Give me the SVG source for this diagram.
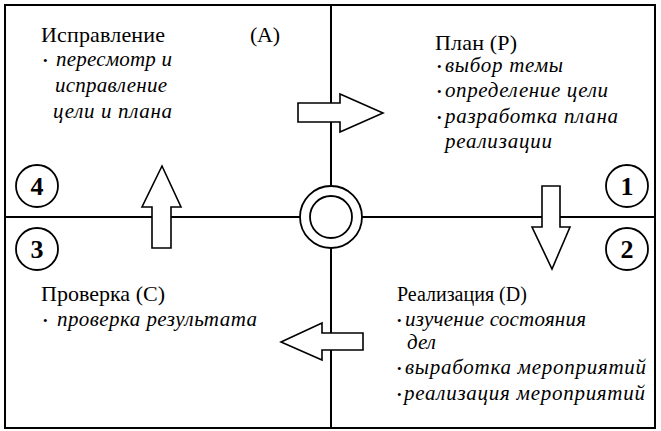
<svg xmlns="http://www.w3.org/2000/svg" width="661" height="431" viewBox="0 0 661 431">
<style>
.frame{fill:none;stroke:#000;stroke-width:2}
.line{stroke:#000;stroke-width:2;fill:none}
.arrow{fill:#fff;stroke:#000;stroke-width:1.6;stroke-linejoin:miter}
.ring{fill:#fff;stroke:#000;stroke-width:1.8}
.h{font-family:"Liberation Serif","Times New Roman",serif;font-size:22px;fill:#000}
.i{font-family:"Liberation Serif","Times New Roman",serif;font-size:21px;font-style:italic;fill:#000}
.b{font-family:"Liberation Serif","Times New Roman",serif;font-size:13px;fill:#000}
.num{font-family:"Liberation Serif","Times New Roman",serif;font-size:26px;font-weight:bold;fill:#000;text-anchor:middle}
</style>
<rect width="661" height="431" fill="#fff"/>
<rect class="frame" x="5" y="5" width="650" height="423"/>
<g id="connectors">
<line class="line" x1="331" y1="5" x2="331" y2="428"/>
<line class="line" x1="5" y1="217" x2="655" y2="217"/>
<polygon class="arrow" points="298,103 340,103 340,94 383,113 340,132 340,122 298,122"/>
<polygon class="arrow" points="542,186 560,186 560,227 570,227 552,269 532,227 542,227"/>
<polygon class="arrow" points="363,333 322,333 322,323 281,342 322,360 322,350 363,350"/>
<polygon class="arrow" points="152,248 152,207 142,207 162,166 181,207 171,207 171,248"/>
</g>
<g id="center">
<circle class="ring" cx="331" cy="217" r="31"/>
<circle class="ring" cx="331" cy="217" r="21"/>
</g>
<g id="num1"><circle class="ring" cx="627" cy="186" r="21"/><text class="num" x="627" y="195">1</text></g>
<g id="num2"><circle class="ring" cx="627" cy="249" r="21"/><text class="num" x="627" y="258">2</text></g>
<g id="num3"><circle class="ring" cx="37" cy="249" r="21"/><text class="num" x="37" y="258">3</text></g>
<g id="num4"><circle class="ring" cx="37" cy="186" r="21"/><text class="num" x="37" y="195">4</text></g>
<g id="act">
<text class="h" x="41" y="42" textLength="124" lengthAdjust="spacing">Исправление</text>
<text class="h" x="250" y="42" textLength="30" lengthAdjust="spacing">(A)</text>
<text class="b" x="43" y="65">•</text>
<text class="i" x="56" y="66" textLength="116" lengthAdjust="spacing">пересмотр и</text>
<text class="i" x="55" y="92" textLength="112" lengthAdjust="spacing">исправление</text>
<text class="i" x="53" y="118" textLength="119" lengthAdjust="spacing">цели и плана</text>
</g>
<g id="plan">
<text class="h" x="435" y="50" textLength="82" lengthAdjust="spacing">План (P)</text>
<text class="b" x="437" y="71">•</text>
<text class="i" x="445" y="72" textLength="118" lengthAdjust="spacing">выбор темы</text>
<text class="b" x="437" y="96">•</text>
<text class="i" x="445" y="97" textLength="163" lengthAdjust="spacing">определение цели</text>
<text class="b" x="437" y="122">•</text>
<text class="i" x="445" y="123" textLength="173" lengthAdjust="spacing">разработка плана</text>
<text class="i" x="445" y="148" textLength="107" lengthAdjust="spacing">реализации</text>
</g>
<g id="check">
<text class="h" x="41" y="301" textLength="124" lengthAdjust="spacing">Проверка (C)</text>
<text class="b" x="43" y="325">•</text>
<text class="i" x="57" y="326" textLength="200" lengthAdjust="spacing">проверка результата</text>
</g>
<g id="do">
<text class="h" x="397" y="301" style="font-size:20px">Реализация (D)</text>
<text class="b" x="397" y="325">•</text>
<text class="i" x="405" y="326" textLength="181" lengthAdjust="spacing">изучение состояния</text>
<text class="i" x="407" y="349" textLength="29" lengthAdjust="spacing">дел</text>
<text class="b" x="397" y="373">•</text>
<text class="i" x="405" y="374" textLength="241" lengthAdjust="spacing">выработка мероприятий</text>
<text class="b" x="397" y="399">•</text>
<text class="i" x="404" y="400" textLength="241" lengthAdjust="spacing">реализация мероприятий</text>
</g>
</svg>
